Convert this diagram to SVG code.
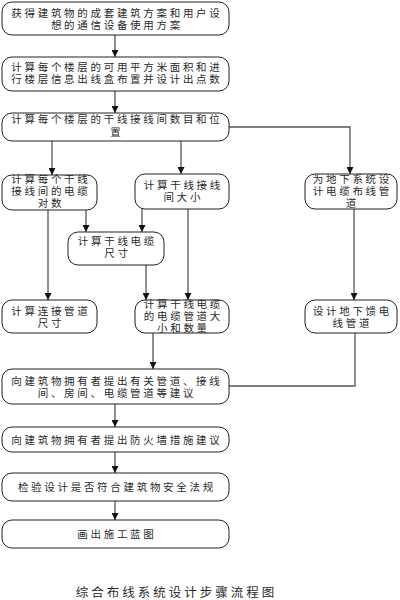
<svg xmlns="http://www.w3.org/2000/svg" width="400" height="600" viewBox="0 0 400 600">
<style>
.box{fill:#fff;stroke:#222;stroke-width:1}
.t{font-family:"Noto Sans CJK SC","Noto Sans",sans-serif;font-size:10.5px;letter-spacing:2.7px;fill:#2a2a2a;text-anchor:middle}
.c{fill:none;stroke:#555;stroke-width:1.3}
.title{font-family:"Noto Sans CJK SC","Noto Sans",sans-serif;font-size:12.5px;letter-spacing:3px;fill:#2a2a2a;text-anchor:middle}
</style>
<defs>
<marker id="ah" markerWidth="7" markerHeight="7" refX="7" refY="3.5" orient="auto" markerUnits="userSpaceOnUse">
<path d="M0,0 L7,3.5 L0,7 z" fill="#111"/>
</marker>
</defs>
<rect width="400" height="600" fill="#fff"/>
<g id="connectors">
<path class="c" d="M115,35 V57" marker-end="url(#ah)"/>
<path class="c" d="M115,91 V113" marker-end="url(#ah)"/>
<path class="c" d="M52,141 V175" marker-end="url(#ah)"/>
<path class="c" d="M181,141 V174" marker-end="url(#ah)"/>
<path class="c" d="M229,127 H350 V174" marker-end="url(#ah)"/>
<path class="c" d="M86,210 V232" marker-end="url(#ah)"/>
<path class="c" d="M142,209 V232" marker-end="url(#ah)"/>
<path class="c" d="M48,210 V300" marker-end="url(#ah)"/>
<path class="c" d="M146,265 V300" marker-end="url(#ah)"/>
<path class="c" d="M188,209 V300" marker-end="url(#ah)"/>
<path class="c" d="M354,209 V300" marker-end="url(#ah)"/>
<path class="c" d="M153,333 V369" marker-end="url(#ah)"/>
<path class="c" d="M355,333 V386 H229"/>
<path class="c" d="M115,404 V427" marker-end="url(#ah)"/>
<path class="c" d="M115,452 V473" marker-end="url(#ah)"/>
<path class="c" d="M115,501 V520" marker-end="url(#ah)"/>
</g>
<g id="n1"><rect class="box" x="2" y="2" width="227" height="33" rx="10"/>
<text class="t" x="116.9" y="16.5">获得建筑物的成套建筑方案和用户设</text>
<text class="t" x="116.9" y="28.5">想的通信设备使用方案</text></g>
<g id="n2"><rect class="box" x="2" y="57" width="227" height="34" rx="10"/>
<text class="t" x="116.9" y="71">计算每个楼层的可用平方米面积和进</text>
<text class="t" x="116.9" y="83">行楼层信息出线盒布置并设计出点数</text></g>
<g id="n3"><rect class="box" x="2" y="113" width="227" height="28" rx="10"/>
<text class="t" x="116.9" y="123">计算每个楼层的干线接线间数目和位</text>
<text class="t" x="116.9" y="136">置</text></g>
<g id="n4"><rect class="box" x="2" y="175" width="95" height="35" rx="10"/>
<text class="t" x="50.9" y="183">计算每个干线</text>
<text class="t" x="50.9" y="195">接线间的电缆</text>
<text class="t" x="50.9" y="207">对数</text></g>
<g id="n5"><rect class="box" x="135" y="174" width="94" height="35" rx="10"/>
<text class="t" x="183.4" y="189">计算干线接线</text>
<text class="t" x="183.4" y="201">间大小</text></g>
<g id="n6"><rect class="box" x="305" y="174" width="92" height="35" rx="10"/>
<text class="t" x="352.4" y="183">为地下系统设</text>
<text class="t" x="352.4" y="195">计电缆布线管</text>
<text class="t" x="352.4" y="207">道</text></g>
<g id="n7"><rect class="box" x="68" y="232" width="96" height="33" rx="10"/>
<text class="t" x="117.4" y="244.5">计算干线电缆</text>
<text class="t" x="117.4" y="256.5">尺寸</text></g>
<g id="n8"><rect class="box" x="2" y="300" width="95" height="33" rx="10"/>
<text class="t" x="50.9" y="315">计算连接管道</text>
<text class="t" x="50.9" y="327">尺寸</text></g>
<g id="n9"><rect class="box" x="135" y="300" width="94" height="33" rx="10"/>
<text class="t" x="183.4" y="308">计算干线电缆</text>
<text class="t" x="183.4" y="320">的电缆管道大</text>
<text class="t" x="183.4" y="332">小和数量</text></g>
<g id="n10"><rect class="box" x="305" y="300" width="92" height="33" rx="10"/>
<text class="t" x="352.4" y="314.5">设计地下馈电</text>
<text class="t" x="352.4" y="326.5">线管道</text></g>
<g id="n11"><rect class="box" x="2" y="369" width="227" height="35" rx="10"/>
<text class="t" x="116.9" y="384.5">向建筑物拥有者提出有关管道、接线</text>
<text class="t" x="116.9" y="396.5">间、房间、电缆管道等建议</text></g>
<g id="n12"><rect class="box" x="2" y="427" width="227" height="25" rx="10"/>
<text class="t" x="116.9" y="443.5">向建筑物拥有者提出防火墙措施建议</text></g>
<g id="n13"><rect class="box" x="2" y="473" width="227" height="28" rx="10"/>
<text class="t" x="116.9" y="490.5">检验设计是否符合建筑物安全法规</text></g>
<g id="n14"><rect class="box" x="2" y="520" width="227" height="28" rx="10"/>
<text class="t" x="116.9" y="537.5">画出施工蓝图</text></g>
<text class="title" x="176.5" y="597">综合布线系统设计步骤流程图</text>
</svg>
